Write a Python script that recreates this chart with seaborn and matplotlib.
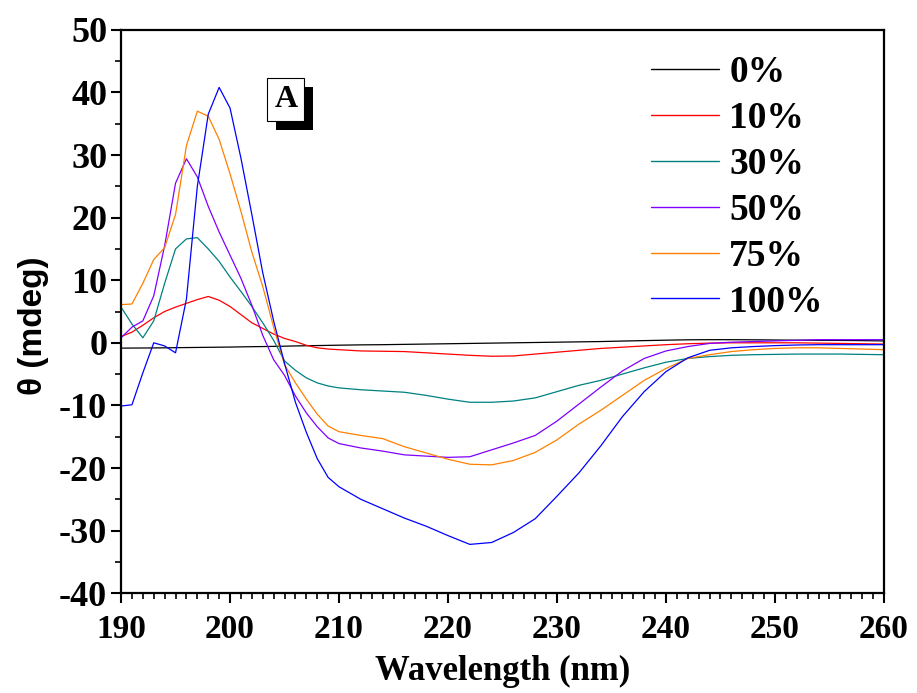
import matplotlib
matplotlib.use('Agg')
import matplotlib.pyplot as plt
import matplotlib.patheffects as pe
from matplotlib.ticker import MultipleLocator
import seaborn as sns
import numpy as np
import pandas as pd

##################################################################################
# data (theta in mdeg vs wavelength in nm)
##################################################################################
wavelength = list(range(190, 211)) + list(range(212, 261, 2))

theta_0 = [-0.85, -0.84, -0.83, -0.82, -0.8, -0.78, -0.76, -0.74, -0.72, -0.7,
           -0.68, -0.65, -0.62, -0.6, -0.57, -0.54, -0.5, -0.47, -0.44, -0.41,
           -0.38,
           -0.33, -0.3, -0.25, -0.2, -0.15, -0.1, -0.05, 0.0, 0.05, 0.1, 0.15,
           0.2, 0.28, 0.35, 0.42, 0.48, 0.5, 0.5, 0.48, 0.45, 0.42, 0.4, 0.38,
           0.35, 0.3]

theta_10 = [1.0, 1.7, 2.8, 4.0, 5.0, 5.7, 6.3, 6.9, 7.4, 6.8, 5.8, 4.5, 3.2, 2.3,
            1.4, 0.7, 0.2, -0.4, -0.8, -1.0, -1.1,
            -1.3, -1.35, -1.4, -1.6, -1.8, -2.0, -2.15, -2.1, -1.8, -1.5, -1.2,
            -0.9, -0.7, -0.5, -0.3, -0.15, -0.05, 0.0, 0.0, 0.0, 0.0, -0.05,
            -0.1, -0.15, -0.2]

theta_30 = [5.7, 3.0, 0.8, 3.5, 9.5, 15.0, 16.6, 16.8, 15.0, 13.0, 10.5, 8.2,
            5.8, 3.2, 0.4, -2.9, -4.4, -5.6, -6.4, -6.9, -7.2,
            -7.5, -7.7, -7.9, -8.4, -9.0, -9.5, -9.5, -9.3, -8.8, -7.8, -6.8,
            -6.0, -5.0, -4.0, -3.1, -2.5, -2.2, -2.0, -1.9, -1.85, -1.8, -1.8,
            -1.8, -1.85, -1.9]

theta_50 = [0.8, 2.5, 3.5, 7.5, 15.5, 25.5, 29.4, 26.5, 21.8, 17.7, 14.0, 10.3,
            6.0, 1.2, -2.7, -5.2, -8.5, -11.2, -13.4, -15.2, -16.1,
            -16.8, -17.3, -17.9, -18.1, -18.3, -18.2, -17.1, -16.0, -14.8,
            -12.5, -9.8, -7.1, -4.5, -2.5, -1.3, -0.6, -0.1, 0.1, 0.2, 0.3, 0.4,
            0.5, 0.5, 0.5, 0.5]

theta_75 = [6.1, 6.2, 9.5, 13.3, 15.2, 20.5, 31.5, 37.0, 36.2, 32.5, 27.0, 21.0,
            14.5, 9.0, 2.5, -3.5, -6.4, -9.0, -11.4, -13.3, -14.2,
            -14.8, -15.3, -16.6, -17.6, -18.6, -19.4, -19.5, -18.8, -17.5,
            -15.5, -13.0, -10.8, -8.4, -6.0, -4.1, -2.5, -1.9, -1.4, -1.1, -0.9,
            -0.8, -0.8, -0.9, -1.0, -1.1]

theta_100 = [-10.1, -9.9, -4.8, 0.0, -0.5, -1.6, 7.0, 25.0, 36.5, 40.8, 37.5,
             29.5, 20.5, 11.2, 3.5, -3.3, -9.5, -14.3, -18.5, -21.5, -23.0,
             -25.0, -26.5, -28.0, -29.3, -30.8, -32.2, -31.9, -30.3, -28.1,
             -24.5, -20.8, -16.5, -11.8, -7.8, -4.6, -2.4, -1.2, -0.8, -0.6,
             -0.45, -0.35, -0.3, -0.3, -0.3, -0.3]

labels = ['0%', '10%', '30%', '50%', '75%', '100%']
colors = ['#000000', '#ff0000', '#008080', '#8000ff', '#ff8000', '#0000ff']

##################################################################################
# Begin plotting
##################################################################################
sns.set_style('ticks')
plt.rcParams['font.family'] = ['Liberation Serif', 'DejaVu Serif']
plt.rcParams['font.weight'] = 'bold'
plt.rcParams['axes.unicode_minus'] = False
plt.rcParams['text.color'] = 'black'
plt.rcParams['axes.labelcolor'] = 'black'
plt.rcParams['xtick.color'] = 'black'
plt.rcParams['ytick.color'] = 'black'

df = pd.DataFrame({lab: vals for lab, vals in
                   zip(labels, [theta_0, theta_10, theta_30, theta_50,
                                theta_75, theta_100])},
                  index=pd.Index(wavelength, name='Wavelength'))

fig = plt.figure(figsize=(9.17, 6.93), dpi=100)
ax = fig.add_axes([0.132, 0.144, 0.832, 0.813])

sns.lineplot(data=df, ax=ax, palette=dict(zip(labels, colors)),
             dashes=False, linewidth=0.9)

ax.set_xlim(190, 260)
ax.set_ylim(-40, 50)
ax.xaxis.set_major_locator(MultipleLocator(10))
ax.xaxis.set_minor_locator(MultipleLocator(1))
ax.yaxis.set_major_locator(MultipleLocator(10))
ax.yaxis.set_minor_locator(MultipleLocator(5))

for sp in ax.spines.values():
    sp.set_linewidth(1.6)
    sp.set_color('black')

ax.tick_params(which='major', direction='out', length=7, width=1.5,
               colors='black')
ax.tick_params(which='minor', direction='out', length=4, width=1.2,
               colors='black')
ax.tick_params(axis='x', which='major', pad=8, labelsize=24)
ax.tick_params(axis='y', which='major', pad=3, labelsize=26)
for t in ax.get_xticklabels() + ax.get_yticklabels():
    t.set_fontweight('bold')

ax.set_xlabel('Wavelength (nm)', fontsize=25, fontweight='bold')
ax.xaxis.set_label_coords(0.5, -0.11)
ax.set_ylabel('θ (mdeg)', fontsize=24, fontweight='bold',
              family=['Liberation Sans', 'DejaVu Sans'])
ax.yaxis.set_label_coords(-0.095, 0.474)

# legend
handles, labs = ax.get_legend_handles_labels()
leg = ax.legend(handles, labs, loc='upper left', bbox_to_anchor=(0.695, 0.955),
                frameon=False, borderpad=0, borderaxespad=0,
                handlelength=1.81, handletextpad=0.27, labelspacing=0.29,
                prop={'family': 'Liberation Serif', 'weight': 'bold',
                      'size': 27})
for line in leg.get_lines():
    line.set_linewidth(1.0)

# panel label with drop shadow
txt = ax.text(0.216, 0.876, 'A', transform=ax.transAxes, ha='center',
              va='center', fontsize=23, fontweight='bold',
              bbox=dict(boxstyle='square,pad=0.22', fc='white', ec='black',
                        lw=0.8))
txt.get_bbox_patch().set_path_effects([
    pe.SimplePatchShadow(offset=(6.5, -6.5), shadow_rgbFace='black', alpha=1),
    pe.Normal()])

plt.savefig('out.png', dpi=100)
